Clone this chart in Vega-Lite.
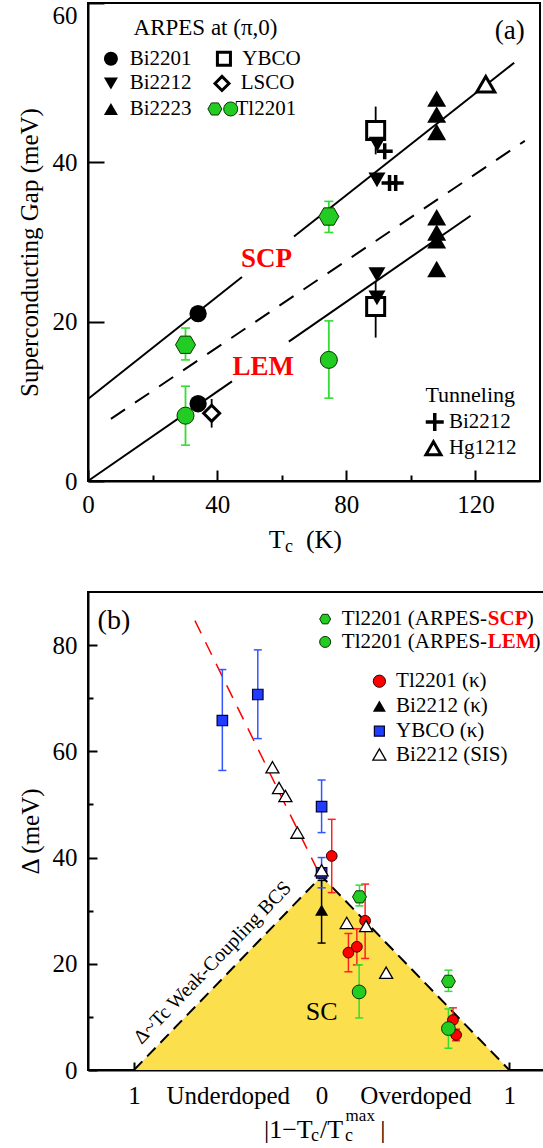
{
  "$schema": "https://vega.github.io/schema/vega-lite/v6.json",
  "background": "white",
  "padding": {"left": 16, "top": 1, "right": 0, "bottom": 0},
  "autosize": {"type": "pad"},
  "bounds": "flush",
  "spacing": 111,
  "config": {
    "font": "Liberation Serif",
    "view": {"stroke": "black", "strokeWidth": 2},
    "axis": {
      "domainColor": "black", "domainWidth": 2, "tickColor": "black", "tickWidth": 2,
      "labelFont": "Liberation Serif", "labelFontSize": 25, "labelColor": "black",
      "titleFont": "Liberation Serif", "titleFontSize": 25, "titleFontWeight": "normal", "titleColor": "black",
      "grid": false, "labelFlush": false, "labelOverlap": false
    }
  },
  "resolve": {"scale": {"color": "independent", "fill": "independent", "stroke": "independent", "shape": "independent", "size": "independent", "strokeWidth": "independent"}},
  "datasets": {
    "linesA": [
      {"line": "SCP", "seg": "SCP-1", "x": 0, "y": 10.3},
      {"line": "SCP", "seg": "SCP-1", "x": 47.7, "y": 25.6},
      {"line": "SCP", "seg": "SCP-2", "x": 63.8, "y": 30.7},
      {"line": "SCP", "seg": "SCP-2", "x": 132, "y": 52.5},
      {"line": "LEM", "seg": "LEM-1", "x": 0, "y": 0},
      {"line": "LEM", "seg": "LEM-1", "x": 44.6, "y": 12.5},
      {"line": "LEM", "seg": "LEM-2", "x": 62.2, "y": 17.5},
      {"line": "LEM", "seg": "LEM-2", "x": 118.5, "y": 33.3},
      {"line": "mid", "seg": "mid", "x": 7.1, "y": 7.8},
      {"line": "mid", "seg": "mid", "x": 135.3, "y": 42.7}
    ],
    "errA": [
      {"series": "Tl2201 SCP", "x": 30.2, "lo": 15.2, "hi": 19.2},
      {"series": "Tl2201 SCP", "x": 74.6, "lo": 31.2, "hi": 35.1},
      {"series": "Tl2201 LEM", "x": 30.2, "lo": 4.5, "hi": 11.9},
      {"series": "Tl2201 LEM", "x": 74.6, "lo": 10.4, "hi": 20.1},
      {"series": "YBCO", "x": 89.1, "lo": 41, "hi": 47},
      {"series": "YBCO", "x": 89.1, "lo": 18, "hi": 25},
      {"series": "LSCO", "x": 38.3, "lo": 6.7, "hi": 10.3}
    ],
    "ptsA": [
      {"role": "data", "series": "YBCO", "x": 89.1, "y": 44.0},
      {"role": "data", "series": "YBCO", "x": 89.1, "y": 21.9},
      {"role": "data", "series": "Bi2201", "x": 34.1, "y": 21.0},
      {"role": "data", "series": "Bi2201", "x": 34.1, "y": 9.7},
      {"role": "data", "series": "Tl2201 LEM", "x": 30.2, "y": 8.2},
      {"role": "data", "series": "Tl2201 LEM", "x": 74.6, "y": 15.2},
      {"role": "data", "series": "LSCO", "x": 38.3, "y": 8.5},
      {"role": "data", "series": "Tl2201 SCP", "x": 30.2, "y": 17.1},
      {"role": "data", "series": "Tl2201 SCP", "x": 74.6, "y": 33.2},
      {"role": "data", "series": "Bi2212", "x": 89.6, "y": 42.3},
      {"role": "data", "series": "Bi2212", "x": 89.5, "y": 37.8},
      {"role": "data", "series": "Bi2212", "x": 89.5, "y": 25.9},
      {"role": "data", "series": "Bi2212", "x": 89.5, "y": 23.0},
      {"role": "data", "series": "Bi2212 tunneling", "x": 91.9, "y": 41.4},
      {"role": "data", "series": "Bi2212 tunneling", "x": 93.4, "y": 37.4},
      {"role": "data", "series": "Bi2212 tunneling", "x": 95.3, "y": 37.4},
      {"role": "data", "series": "Bi2223", "x": 108, "y": 48.0},
      {"role": "data", "series": "Bi2223", "x": 108, "y": 46.0},
      {"role": "data", "series": "Bi2223", "x": 108, "y": 43.8},
      {"role": "data", "series": "Bi2223", "x": 108, "y": 33.1},
      {"role": "data", "series": "Bi2223", "x": 108, "y": 31.2},
      {"role": "data", "series": "Bi2223", "x": 108, "y": 30.2},
      {"role": "data", "series": "Bi2223", "x": 108, "y": 26.6},
      {"role": "data", "series": "Hg1212", "x": 123.2, "y": 49.8},
      {"role": "legend", "series": "Bi2201", "x": 7.1, "y": 53.0},
      {"role": "legend", "series": "Bi2212", "x": 7.1, "y": 49.9},
      {"role": "legend", "series": "Bi2223", "x": 7.1, "y": 46.7},
      {"role": "legend", "series": "YBCO", "x": 42.1, "y": 53.0},
      {"role": "legend", "series": "LSCO", "x": 41.5, "y": 49.9},
      {"role": "legend", "series": "Tl2201 SCP", "x": 39.3, "y": 46.7},
      {"role": "legend", "series": "Tl2201 LEM", "x": 44.2, "y": 46.7},
      {"role": "legend", "series": "Bi2212 tunneling", "x": 107.4, "y": 7.4},
      {"role": "legend", "series": "Hg1212", "x": 107.0, "y": 4.1}
    ],
    "textA": [
      {"kind": "head", "x": 36.4, "y": 56.9, "text": "ARPES at (π,0)"},
      {"kind": "legend", "x": 12.9, "y": 53.0, "text": "Bi2201"},
      {"kind": "legend", "x": 12.9, "y": 49.9, "text": "Bi2212"},
      {"kind": "legend", "x": 12.9, "y": 46.7, "text": "Bi2223"},
      {"kind": "legend", "x": 47.8, "y": 53.0, "text": "YBCO"},
      {"kind": "legend", "x": 47.3, "y": 49.9, "text": "LSCO"},
      {"kind": "legend", "x": 45.7, "y": 46.7, "text": "Tl2201"},
      {"kind": "head2", "x": 104.5, "y": 10.8, "text": "Tunneling"},
      {"kind": "legend", "x": 111.8, "y": 7.4, "text": "Bi2212"},
      {"kind": "legend", "x": 111.8, "y": 4.1, "text": "Hg1212"},
      {"kind": "panel", "x": 130.6, "y": 56.5, "text": "(a)"},
      {"kind": "fit", "x": 55.3, "y": 27.9, "text": "SCP"},
      {"kind": "fit", "x": 54.3, "y": 14.3, "text": "LEM"},
      {"kind": "title", "x": 56.0, "y": -8.41, "text": "T"},
      {"kind": "sub", "x": 61.0, "y": -8.9, "text": "c"},
      {"kind": "title", "x": 67.5, "y": -8.41, "text": "(K)"}
    ],
    "triB": [
      {"x": -1, "y": 0},
      {"x": 0, "y": 36.5},
      {"x": 1, "y": 0}
    ],
    "redB": [
      {"x": -0.675, "y": 84.6},
      {"x": -0.02, "y": 37.5}
    ],
    "errB": [
      {"series": "YBCO κ", "x": -0.529, "lo": 56.4, "hi": 75.4},
      {"series": "YBCO κ", "x": -0.340, "lo": 62.4, "hi": 79.1},
      {"series": "YBCO κ", "x": 0.0, "lo": 44.7, "hi": 54.6},
      {"series": "YBCO κ", "x": 0.0, "lo": 34.3, "hi": 40.0},
      {"series": "Bi2212 κ", "x": 0.0, "lo": 23.9, "hi": 35.7},
      {"series": "Tl2201 κ", "x": 0.054, "lo": 33.4, "hi": 47.2},
      {"series": "Tl2201 κ", "x": 0.232, "lo": 21.0, "hi": 35.0},
      {"series": "Tl2201 κ", "x": 0.143, "lo": 18.5, "hi": 25.7},
      {"series": "Tl2201 κ", "x": 0.188, "lo": 19.8, "hi": 26.6},
      {"series": "Tl2201 κ", "x": 0.700, "lo": 7.1, "hi": 11.7},
      {"series": "Tl2201 κ", "x": 0.717, "lo": 5.5, "hi": 7.7},
      {"series": "Tl2201 SCP", "x": 0.202, "lo": 30.9, "hi": 34.8},
      {"series": "Tl2201 SCP", "x": 0.676, "lo": 14.8, "hi": 18.8},
      {"series": "Tl2201 LEM", "x": 0.200, "lo": 9.8, "hi": 19.8},
      {"series": "Tl2201 LEM", "x": 0.676, "lo": 4.1, "hi": 11.5}
    ],
    "ptsB": [
      {"role": "data", "series": "YBCO κ", "x": -0.529, "y": 65.8},
      {"role": "data", "series": "YBCO κ", "x": -0.340, "y": 70.7},
      {"role": "data", "series": "YBCO κ", "x": 0.0, "y": 49.6},
      {"role": "data", "series": "YBCO κ", "x": 0.0, "y": 37.1},
      {"role": "data", "series": "Bi2212 κ", "x": 0.0, "y": 30.1},
      {"role": "data", "series": "Tl2201 κ", "x": 0.054, "y": 40.3},
      {"role": "data", "series": "Tl2201 κ", "x": 0.232, "y": 28.1},
      {"role": "data", "series": "Tl2201 κ", "x": 0.143, "y": 22.1},
      {"role": "data", "series": "Tl2201 κ", "x": 0.188, "y": 23.2},
      {"role": "data", "series": "Tl2201 κ", "x": 0.700, "y": 9.4},
      {"role": "data", "series": "Tl2201 κ", "x": 0.717, "y": 6.6},
      {"role": "data", "series": "Tl2201 SCP", "x": 0.202, "y": 32.6},
      {"role": "data", "series": "Tl2201 SCP", "x": 0.676, "y": 16.7},
      {"role": "data", "series": "Tl2201 LEM", "x": 0.200, "y": 14.7},
      {"role": "data", "series": "Tl2201 LEM", "x": 0.676, "y": 7.8},
      {"role": "data", "series": "Bi2212 SIS", "x": -0.262, "y": 57.0},
      {"role": "data", "series": "Bi2212 SIS", "x": -0.227, "y": 53.1},
      {"role": "data", "series": "Bi2212 SIS", "x": -0.193, "y": 51.6},
      {"role": "data", "series": "Bi2212 SIS", "x": -0.129, "y": 44.7},
      {"role": "data", "series": "Bi2212 SIS", "x": 0.0, "y": 37.6},
      {"role": "data", "series": "Bi2212 SIS", "x": 0.134, "y": 27.7},
      {"role": "data", "series": "Bi2212 SIS", "x": 0.237, "y": 27.1},
      {"role": "data", "series": "Bi2212 SIS", "x": 0.344, "y": 18.3},
      {"role": "legend", "series": "Tl2201 SCP", "x": 0.019, "y": 84.9},
      {"role": "legend", "series": "Tl2201 LEM", "x": 0.019, "y": 80.6},
      {"role": "legend", "series": "Tl2201 κ", "x": 0.308, "y": 73.2},
      {"role": "legend", "series": "Bi2212 κ", "x": 0.308, "y": 68.5},
      {"role": "legend", "series": "YBCO κ", "x": 0.308, "y": 63.8},
      {"role": "legend", "series": "Bi2212 SIS", "x": 0.308, "y": 59.4}
    ],
    "textB": [
      {"kind": "panel", "x": -1.107, "y": 84.5, "text": "(b)"},
      {"kind": "legend", "x": 0.108, "y": 84.9, "text": "Tl2201 (ARPES-"},
      {"kind": "legendRed", "x": 0.886, "y": 84.9, "text": "SCP"},
      {"kind": "legend", "x": 1.094, "y": 84.9, "text": ")"},
      {"kind": "legend", "x": 0.108, "y": 80.6, "text": "Tl2201 (ARPES-"},
      {"kind": "legendRed", "x": 0.886, "y": 80.6, "text": "LEM"},
      {"kind": "legend", "x": 1.13, "y": 80.6, "text": ")"},
      {"kind": "legend", "x": 0.397, "y": 73.2, "text": "Tl2201 (κ)"},
      {"kind": "legend", "x": 0.397, "y": 68.5, "text": "Bi2212 (κ)"},
      {"kind": "legend", "x": 0.397, "y": 63.8, "text": "YBCO (κ)"},
      {"kind": "legend", "x": 0.397, "y": 59.4, "text": "Bi2212 (SIS)"},
      {"kind": "region", "x": 0.0, "y": 11.0, "text": "SC"},
      {"kind": "bcs", "x": -0.581, "y": 20.2, "text": "Δ~Tc  Weak-Coupling BCS"},
      {"kind": "title", "x": -0.307, "y": -12.75, "text": "|1−T"},
      {"kind": "sub", "x": -0.056, "y": -13.4, "text": "c"},
      {"kind": "title", "x": -0.008, "y": -12.75, "text": "/T"},
      {"kind": "sub", "x": 0.125, "y": -13.4, "text": "c"},
      {"kind": "sup", "x": 0.128, "y": -9.6, "text": "max"},
      {"kind": "title", "x": 0.312, "y": -12.75, "text": "|"}
    ]
  },
  "vconcat": [
    {
      "width": 452,
      "height": 478,
      "encoding": {
        "x": {"field": "x", "type": "quantitative", "scale": {"domain": [0, 140], "nice": false, "zero": false},
          "axis": {"values": [0, 20, 40, 60, 80, 100, 120], "labelExpr": "datum.value % 40 == 0 ? datum.label : ''",
            "tickSize": {"condition": {"test": "datum.value % 40 == 0", "value": -11}, "value": -6},
            "labelPadding": 22, "title": null}},
        "y": {"field": "y", "type": "quantitative", "scale": {"domain": [0, 60], "nice": false, "zero": false},
          "axis": {"values": [0, 20, 40, 60], "tickSize": -16, "labelPadding": 27,
            "labelBaseline": {"condition": {"test": "datum.value == 60", "value": "top"}, "value": "middle"},
            "title": "Superconducting Gap (meV)", "titlePadding": 10, "titleY": 249}}
      },
      "resolve": {"scale": {"size": "independent"}},
      "layer": [
        {"data": {"name": "linesA"}, "transform": [{"filter": "datum.line != 'mid'"}],
          "mark": {"type": "line", "color": "black", "strokeWidth": 2},
          "encoding": {"detail": {"field": "seg"}}},
        {"data": {"name": "linesA"}, "transform": [{"filter": "datum.line == 'mid'"}],
          "mark": {"type": "line", "color": "black", "strokeWidth": 2, "strokeDash": [17, 12]},
          "encoding": {"detail": {"field": "seg"}}},
        {"data": {"name": "errA"},
          "mark": {"type": "rule", "strokeWidth": 1.8},
          "encoding": {
            "y": {"field": "lo", "type": "quantitative", "scale": {"domain": [0, 60], "nice": false, "zero": false},
              "axis": {"values": [0, 20, 40, 60], "tickSize": -16, "labelPadding": 27,
                "labelBaseline": {"condition": {"test": "datum.value == 60", "value": "top"}, "value": "middle"},
                "title": "Superconducting Gap (meV)", "titlePadding": 10, "titleY": 249}},
            "y2": {"field": "hi"},
            "color": {"field": "series", "type": "nominal", "legend": null,
              "scale": {"domain": ["Tl2201 SCP", "Tl2201 LEM", "YBCO", "LSCO"], "range": ["#33dd33", "#33dd33", "black", "black"]}}}},
        {"data": {"name": "errA"}, "transform": [{"filter": "indexof(['Tl2201 SCP','Tl2201 LEM'], datum.series) >= 0"}],
          "mark": {"type": "tick", "orient": "horizontal", "size": 9, "thickness": 1.6, "opacity": 1},
          "encoding": {
            "y": {"field": "lo", "type": "quantitative", "scale": {"domain": [0, 60], "nice": false, "zero": false},
              "axis": {"values": [0, 20, 40, 60], "tickSize": -16, "labelPadding": 27,
                "labelBaseline": {"condition": {"test": "datum.value == 60", "value": "top"}, "value": "middle"},
                "title": "Superconducting Gap (meV)", "titlePadding": 10, "titleY": 249}},
            "color": {"field": "series", "type": "nominal", "legend": null,
              "scale": {"domain": ["Tl2201 SCP", "Tl2201 LEM", "YBCO", "LSCO"], "range": ["#33dd33", "#33dd33", "black", "black"]}}}},
        {"data": {"name": "errA"}, "transform": [{"filter": "indexof(['Tl2201 SCP','Tl2201 LEM'], datum.series) >= 0"}],
          "mark": {"type": "tick", "orient": "horizontal", "size": 9, "thickness": 1.6, "opacity": 1},
          "encoding": {
            "y": {"field": "hi", "type": "quantitative", "scale": {"domain": [0, 60], "nice": false, "zero": false},
              "axis": {"values": [0, 20, 40, 60], "tickSize": -16, "labelPadding": 27,
                "labelBaseline": {"condition": {"test": "datum.value == 60", "value": "top"}, "value": "middle"},
                "title": "Superconducting Gap (meV)", "titlePadding": 10, "titleY": 249}},
            "color": {"field": "series", "type": "nominal", "legend": null,
              "scale": {"domain": ["Tl2201 SCP", "Tl2201 LEM", "YBCO", "LSCO"], "range": ["#33dd33", "#33dd33", "black", "black"]}}}},
        {"data": {"name": "ptsA"}, "transform": [{"filter": "datum.role == 'data'"}],
          "mark": {"type": "point", "filled": true, "opacity": 1},
          "encoding": {
            "shape": {"field": "series", "type": "nominal", "legend": null,
              "scale": {"domain": ["YBCO", "Bi2201", "Tl2201 LEM", "LSCO", "Tl2201 SCP", "Bi2212", "Bi2212 tunneling", "Bi2223", "Hg1212"],
                "range": ["square", "circle", "circle", "diamond", "M-1,0L-0.5,-0.866L0.5,-0.866L1,0L0.5,0.866L-0.5,0.866Z", "triangle-down", "M-1,0L1,0M0,-1L0,1", "triangle-up", "triangle-up"]}},
            "fill": {"field": "series", "type": "nominal", "legend": null,
              "scale": {"domain": ["YBCO", "Bi2201", "Tl2201 LEM", "LSCO", "Tl2201 SCP", "Bi2212", "Bi2212 tunneling", "Bi2223", "Hg1212"],
                "range": ["white", "black", "#22cc22", "white", "#22cc22", "black", "transparent", "black", "white"]}},
            "stroke": {"field": "series", "type": "nominal", "legend": null,
              "scale": {"domain": ["YBCO", "Bi2201", "Tl2201 LEM", "LSCO", "Tl2201 SCP", "Bi2212", "Bi2212 tunneling", "Bi2223", "Hg1212"],
                "range": ["black", "black", "#0a3300", "black", "#0a3300", "black", "black", "black", "black"]}},
            "strokeWidth": {"field": "series", "type": "nominal", "legend": null,
              "scale": {"type": "ordinal", "domain": ["YBCO", "Bi2201", "Tl2201 LEM", "LSCO", "Tl2201 SCP", "Bi2212", "Bi2212 tunneling", "Bi2223", "Hg1212"],
                "range": [3, 0, 1, 3, 1, 0, 3.5, 0, 3]}},
            "size": {"field": "series", "type": "nominal", "legend": null,
              "scale": {"type": "ordinal", "domain": ["YBCO", "Bi2201", "Tl2201 LEM", "LSCO", "Tl2201 SCP", "Bi2212", "Bi2212 tunneling", "Bi2223", "Hg1212"],
                "range": [324, 300, 290, 256, 400, 290, 256, 360, 324]}}
          }},
        {"data": {"name": "ptsA"}, "transform": [{"filter": "datum.role == 'legend'"}],
          "mark": {"type": "point", "filled": true, "opacity": 1},
          "encoding": {
            "shape": {"field": "series", "type": "nominal", "legend": null,
              "scale": {"domain": ["YBCO", "Bi2201", "Tl2201 LEM", "LSCO", "Tl2201 SCP", "Bi2212", "Bi2212 tunneling", "Bi2223", "Hg1212"],
                "range": ["square", "circle", "circle", "diamond", "M-1,0L-0.5,-0.866L0.5,-0.866L1,0L0.5,0.866L-0.5,0.866Z", "triangle-down", "M-1,0L1,0M0,-1L0,1", "triangle-up", "triangle-up"]}},
            "fill": {"field": "series", "type": "nominal", "legend": null,
              "scale": {"domain": ["YBCO", "Bi2201", "Tl2201 LEM", "LSCO", "Tl2201 SCP", "Bi2212", "Bi2212 tunneling", "Bi2223", "Hg1212"],
                "range": ["white", "black", "#22cc22", "white", "#22cc22", "black", "transparent", "black", "white"]}},
            "stroke": {"field": "series", "type": "nominal", "legend": null,
              "scale": {"domain": ["YBCO", "Bi2201", "Tl2201 LEM", "LSCO", "Tl2201 SCP", "Bi2212", "Bi2212 tunneling", "Bi2223", "Hg1212"],
                "range": ["black", "black", "#0a3300", "black", "#0a3300", "black", "black", "black", "black"]}},
            "strokeWidth": {"field": "series", "type": "nominal", "legend": null,
              "scale": {"type": "ordinal", "domain": ["YBCO", "Bi2201", "Tl2201 LEM", "LSCO", "Tl2201 SCP", "Bi2212", "Bi2212 tunneling", "Bi2223", "Hg1212"],
                "range": [3, 0, 1, 3, 1, 0, 3.5, 0, 3]}},
            "size": {"field": "series", "type": "nominal", "legend": null,
              "scale": {"type": "ordinal", "domain": ["YBCO", "Bi2201", "Tl2201 LEM", "LSCO", "Tl2201 SCP", "Bi2212", "Bi2212 tunneling", "Bi2223", "Hg1212"],
                "range": [170, 196, 196, 196, 196, 196, 324, 196, 225]}}
          }},
        {"data": {"name": "textA"}, "transform": [{"filter": "datum.kind == 'head'"}],
          "mark": {"type": "text", "align": "center", "baseline": "middle", "fontSize": 23, "font": "Liberation Serif", "color": "black"},
          "encoding": {"text": {"field": "text"}}},
        {"data": {"name": "textA"}, "transform": [{"filter": "datum.kind == 'legend'"}],
          "mark": {"type": "text", "align": "left", "baseline": "middle", "fontSize": 21, "font": "Liberation Serif", "color": "black"},
          "encoding": {"text": {"field": "text"}}},
        {"data": {"name": "textA"}, "transform": [{"filter": "datum.kind == 'head2'"}],
          "mark": {"type": "text", "align": "left", "baseline": "middle", "fontSize": 22, "font": "Liberation Serif", "color": "black"},
          "encoding": {"text": {"field": "text"}}},
        {"data": {"name": "textA"}, "transform": [{"filter": "datum.kind == 'panel'"}],
          "mark": {"type": "text", "align": "center", "baseline": "middle", "fontSize": 27, "font": "Liberation Serif", "color": "black"},
          "encoding": {"text": {"field": "text"}}},
        {"data": {"name": "textA"}, "transform": [{"filter": "datum.kind == 'fit'"}],
          "mark": {"type": "text", "align": "center", "baseline": "middle", "fontSize": 27, "fontWeight": "bold", "font": "Liberation Serif", "color": "#ff0000"},
          "encoding": {"text": {"field": "text"}}},
        {"data": {"name": "textA"}, "transform": [{"filter": "datum.kind == 'title'"}],
          "mark": {"type": "text", "align": "left", "baseline": "alphabetic", "fontSize": 26, "font": "Liberation Serif", "color": "black"},
          "encoding": {"text": {"field": "text"}}},
        {"data": {"name": "textA"}, "transform": [{"filter": "datum.kind == 'sub'"}],
          "mark": {"type": "text", "align": "left", "baseline": "alphabetic", "fontSize": 18, "font": "Liberation Serif", "color": "black"},
          "encoding": {"text": {"field": "text"}}}
      ]
    },
    {
      "width": 470,
      "height": 478,
      "encoding": {
        "x": {"field": "x", "type": "quantitative", "scale": {"domain": [-1.245, 1.26], "nice": false, "zero": false},
          "axis": {"values": [-1, -0.75, -0.5, -0.25, 0, 0.25, 0.5, 0.75, 1],
            "labelExpr": "datum.value == -1 || datum.value == 1 ? '1' : datum.value == 0 ? '0' : datum.value == -0.5 ? 'Underdoped' : datum.value == 0.5 ? 'Overdoped' : ''",
            "tickSize": -8, "labelPadding": 21, "title": null}},
        "y": {"field": "y", "type": "quantitative", "scale": {"domain": [0, 90], "nice": false, "zero": false},
          "axis": {"values": [0, 10, 20, 30, 40, 50, 60, 70, 80], "labelExpr": "datum.value % 20 == 0 ? datum.label : ''",
            "tickSize": {"condition": {"test": "datum.value % 20 == 0", "value": -9}, "value": -5},
            "labelPadding": 20, "title": "Δ  (meV)", "titlePadding": 9}}
      },
      "resolve": {"scale": {"size": "independent"}},
      "layer": [
        {"data": {"name": "triB"}, "mark": {"type": "area", "color": "#fcdf4c", "opacity": 1}, "encoding": {}},
        {"data": {"name": "triB"}, "mark": {"type": "line", "color": "black", "strokeWidth": 2, "strokeDash": [12, 7]}, "encoding": {}},
        {"data": {"name": "redB"}, "mark": {"type": "line", "color": "#ff0000", "strokeWidth": 1.5, "strokeDash": [14, 10]}, "encoding": {}},
        {"data": {"name": "textB"}, "transform": [{"filter": "datum.kind == 'bcs'"}],
          "mark": {"type": "text", "align": "center", "baseline": "middle", "angle": 314, "fontSize": 20, "font": "Liberation Serif", "color": "black"},
          "encoding": {"text": {"field": "text"}}},
        {"data": {"name": "errB"},
          "mark": {"type": "rule", "strokeWidth": 1.5},
          "encoding": {
            "y": {"field": "lo", "type": "quantitative", "scale": {"domain": [0, 90], "nice": false, "zero": false},
              "axis": {"values": [0, 10, 20, 30, 40, 50, 60, 70, 80], "labelExpr": "datum.value % 20 == 0 ? datum.label : ''",
                "tickSize": {"condition": {"test": "datum.value % 20 == 0", "value": -9}, "value": -5},
                "labelPadding": 20, "title": "Δ  (meV)", "titlePadding": 9}},
            "y2": {"field": "hi"},
            "color": {"field": "series", "type": "nominal", "legend": null,
              "scale": {"domain": ["YBCO κ", "Bi2212 κ", "Tl2201 κ", "Tl2201 SCP", "Tl2201 LEM"], "range": ["#3355ff", "black", "#ff2020", "#33dd33", "#33dd33"]}}}},
        {"data": {"name": "errB"},
          "mark": {"type": "tick", "orient": "horizontal", "size": 8, "thickness": 1.5, "opacity": 1},
          "encoding": {
            "y": {"field": "lo", "type": "quantitative", "scale": {"domain": [0, 90], "nice": false, "zero": false},
              "axis": {"values": [0, 10, 20, 30, 40, 50, 60, 70, 80], "labelExpr": "datum.value % 20 == 0 ? datum.label : ''",
                "tickSize": {"condition": {"test": "datum.value % 20 == 0", "value": -9}, "value": -5},
                "labelPadding": 20, "title": "Δ  (meV)", "titlePadding": 9}},
            "color": {"field": "series", "type": "nominal", "legend": null,
              "scale": {"domain": ["YBCO κ", "Bi2212 κ", "Tl2201 κ", "Tl2201 SCP", "Tl2201 LEM"], "range": ["#3355ff", "black", "#ff2020", "#33dd33", "#33dd33"]}}}},
        {"data": {"name": "errB"},
          "mark": {"type": "tick", "orient": "horizontal", "size": 8, "thickness": 1.5, "opacity": 1},
          "encoding": {
            "y": {"field": "hi", "type": "quantitative", "scale": {"domain": [0, 90], "nice": false, "zero": false},
              "axis": {"values": [0, 10, 20, 30, 40, 50, 60, 70, 80], "labelExpr": "datum.value % 20 == 0 ? datum.label : ''",
                "tickSize": {"condition": {"test": "datum.value % 20 == 0", "value": -9}, "value": -5},
                "labelPadding": 20, "title": "Δ  (meV)", "titlePadding": 9}},
            "color": {"field": "series", "type": "nominal", "legend": null,
              "scale": {"domain": ["YBCO κ", "Bi2212 κ", "Tl2201 κ", "Tl2201 SCP", "Tl2201 LEM"], "range": ["#3355ff", "black", "#ff2020", "#33dd33", "#33dd33"]}}}},
        {"data": {"name": "ptsB"}, "transform": [{"filter": "datum.role == 'data'"}],
          "mark": {"type": "point", "filled": true, "opacity": 1},
          "encoding": {
            "shape": {"field": "series", "type": "nominal", "legend": null,
              "scale": {"domain": ["YBCO κ", "Bi2212 κ", "Tl2201 κ", "Tl2201 SCP", "Tl2201 LEM", "Bi2212 SIS"],
                "range": ["square", "triangle-up", "circle", "M-1,0L-0.5,-0.866L0.5,-0.866L1,0L0.5,0.866L-0.5,0.866Z", "circle", "triangle-up"]}},
            "fill": {"field": "series", "type": "nominal", "legend": null,
              "scale": {"domain": ["YBCO κ", "Bi2212 κ", "Tl2201 κ", "Tl2201 SCP", "Tl2201 LEM", "Bi2212 SIS"],
                "range": ["#1f3cff", "black", "#ff0000", "#22cc22", "#22cc22", "white"]}},
            "stroke": {"field": "series", "type": "nominal", "legend": null,
              "scale": {"domain": ["YBCO κ", "Bi2212 κ", "Tl2201 κ", "Tl2201 SCP", "Tl2201 LEM", "Bi2212 SIS"],
                "range": ["#000033", "black", "#330000", "#0a3300", "#0a3300", "black"]}},
            "strokeWidth": {"field": "series", "type": "nominal", "legend": null,
              "scale": {"type": "ordinal", "domain": ["YBCO κ", "Bi2212 κ", "Tl2201 κ", "Tl2201 SCP", "Tl2201 LEM", "Bi2212 SIS"],
                "range": [1.2, 0, 1, 1, 1, 1.3]}},
            "size": {"field": "series", "type": "nominal", "legend": null,
              "scale": {"type": "ordinal", "domain": ["YBCO κ", "Bi2212 κ", "Tl2201 κ", "Tl2201 SCP", "Tl2201 LEM", "Bi2212 SIS"],
                "range": [110, 170, 115, 196, 190, 170]}}
          }},
        {"data": {"name": "ptsB"}, "transform": [{"filter": "datum.role == 'legend'"}],
          "mark": {"type": "point", "filled": true, "opacity": 1},
          "encoding": {
            "shape": {"field": "series", "type": "nominal", "legend": null,
              "scale": {"domain": ["YBCO κ", "Bi2212 κ", "Tl2201 κ", "Tl2201 SCP", "Tl2201 LEM", "Bi2212 SIS"],
                "range": ["square", "triangle-up", "circle", "M-1,0L-0.5,-0.866L0.5,-0.866L1,0L0.5,0.866L-0.5,0.866Z", "circle", "triangle-up"]}},
            "fill": {"field": "series", "type": "nominal", "legend": null,
              "scale": {"domain": ["YBCO κ", "Bi2212 κ", "Tl2201 κ", "Tl2201 SCP", "Tl2201 LEM", "Bi2212 SIS"],
                "range": ["#1f3cff", "black", "#ff0000", "#22cc22", "#22cc22", "white"]}},
            "stroke": {"field": "series", "type": "nominal", "legend": null,
              "scale": {"domain": ["YBCO κ", "Bi2212 κ", "Tl2201 κ", "Tl2201 SCP", "Tl2201 LEM", "Bi2212 SIS"],
                "range": ["#000033", "black", "#330000", "#0a3300", "#0a3300", "black"]}},
            "strokeWidth": {"field": "series", "type": "nominal", "legend": null,
              "scale": {"type": "ordinal", "domain": ["YBCO κ", "Bi2212 κ", "Tl2201 κ", "Tl2201 SCP", "Tl2201 LEM", "Bi2212 SIS"],
                "range": [1.2, 0, 1, 1, 1, 1.3]}},
            "size": {"field": "series", "type": "nominal", "legend": null,
              "scale": {"type": "ordinal", "domain": ["YBCO κ", "Bi2212 κ", "Tl2201 κ", "Tl2201 SCP", "Tl2201 LEM", "Bi2212 SIS"],
                "range": [100, 170, 150, 121, 121, 170]}}
          }},
        {"data": {"name": "textB"}, "transform": [{"filter": "datum.kind == 'panel'"}],
          "mark": {"type": "text", "align": "center", "baseline": "middle", "fontSize": 28, "font": "Liberation Serif", "color": "black"},
          "encoding": {"text": {"field": "text"}}},
        {"data": {"name": "textB"}, "transform": [{"filter": "datum.kind == 'legend'"}],
          "mark": {"type": "text", "align": "left", "baseline": "middle", "fontSize": 21, "font": "Liberation Serif", "color": "black"},
          "encoding": {"text": {"field": "text"}}},
        {"data": {"name": "textB"}, "transform": [{"filter": "datum.kind == 'legendRed'"}],
          "mark": {"type": "text", "align": "left", "baseline": "middle", "fontSize": 21, "fontWeight": "bold", "font": "Liberation Serif", "color": "#ff0000"},
          "encoding": {"text": {"field": "text"}}},
        {"data": {"name": "textB"}, "transform": [{"filter": "datum.kind == 'region'"}],
          "mark": {"type": "text", "align": "center", "baseline": "middle", "fontSize": 26, "font": "Liberation Serif", "color": "black"},
          "encoding": {"text": {"field": "text"}}},
        {"data": {"name": "textB"}, "transform": [{"filter": "datum.kind == 'title'"}],
          "mark": {"type": "text", "align": "left", "baseline": "alphabetic", "fontSize": 26, "font": "Liberation Serif", "color": "black"},
          "encoding": {"text": {"field": "text"}}},
        {"data": {"name": "textB"}, "transform": [{"filter": "datum.kind == 'sub'"}],
          "mark": {"type": "text", "align": "left", "baseline": "alphabetic", "fontSize": 18, "font": "Liberation Serif", "color": "black"},
          "encoding": {"text": {"field": "text"}}},
        {"data": {"name": "textB"}, "transform": [{"filter": "datum.kind == 'sup'"}],
          "mark": {"type": "text", "align": "left", "baseline": "alphabetic", "fontSize": 17, "font": "Liberation Serif", "color": "black"},
          "encoding": {"text": {"field": "text"}}}
      ]
    }
  ]
}
